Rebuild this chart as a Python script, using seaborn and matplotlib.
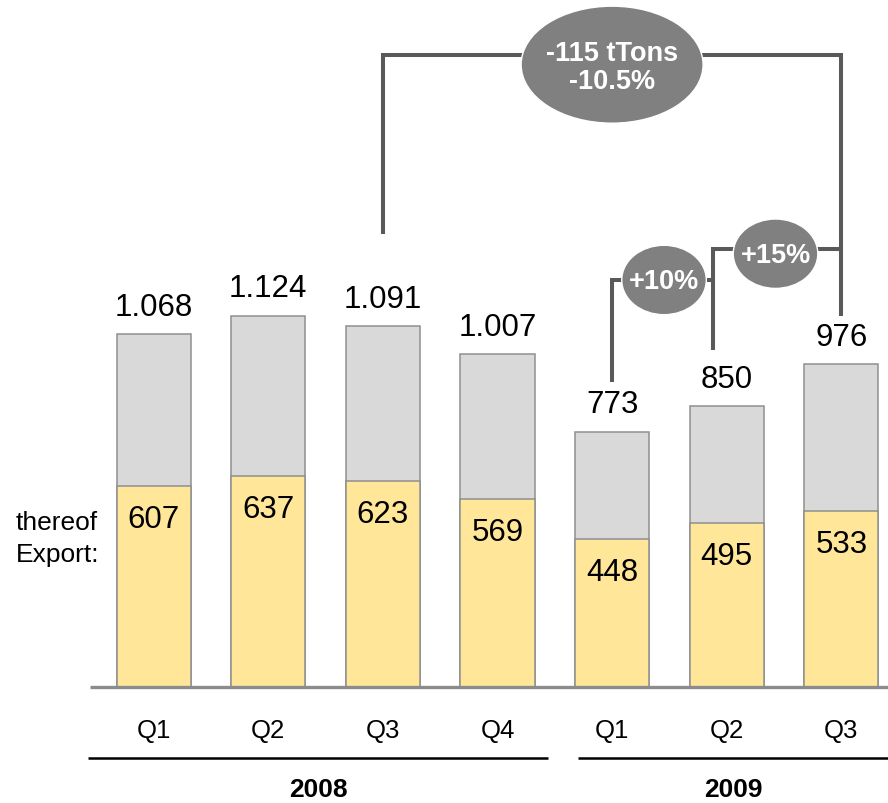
import matplotlib
matplotlib.use("Agg")
import matplotlib.pyplot as plt
from matplotlib.patches import Ellipse
import pandas as pd
import seaborn as sns

# Quarterly shipments (tTons) and the export share of each quarter
years = ["2008", "2008", "2008", "2008", "2009", "2009", "2009"]
quarters = ["Q1", "Q2", "Q3", "Q4", "Q1", "Q2", "Q3"]
totals = [1068, 1124, 1091, 1007, 773, 850, 976]
exports = [607, 637, 623, 569, 448, 495, 533]

GRAY_FILL = "#d9d9d9"
YELLOW_FILL = "#ffe699"
BAR_EDGE = "#8f8f8f"
BRACKET = "#595959"
BUBBLE = "#808080"

sns.set_theme(style="white")
plt.rcParams["font.family"] = ["Liberation Sans", "DejaVu Sans"]
plt.rcParams["text.color"] = "black"

df = pd.DataFrame({
    "period": [f"{q} {y}" for q, y in zip(quarters, years)],
    "year": years,
    "quarter": quarters,
    "total": totals,
    "export": exports,
})

fig = plt.figure(figsize=(8.88, 8.04), dpi=100)
ax = fig.add_axes([0, 0, 1, 1])

bar_w = 0.646
sns.barplot(data=df, x="period", y="total", color=GRAY_FILL, saturation=1,
            width=bar_w, edgecolor=BAR_EDGE, linewidth=1.1, errorbar=None, ax=ax)
sns.barplot(data=df, x="period", y="export", color=YELLOW_FILL, saturation=1,
            width=bar_w, edgecolor=BAR_EDGE, linewidth=1.1, errorbar=None, ax=ax)

ax.set_xlim(-1.3412, 6.4075)
ax.set_ylim(-351, 2081.7)
ax.axis("off")

n = len(df)
# baseline
ax.plot([-0.555, n], [0, 0], color="#8c8c8c", lw=2.4, solid_capstyle="butt", zorder=3)

label_fs = 22.5
for i, (t, e) in enumerate(zip(totals, exports)):
    ax.text(i, t + 59, f"{t:,}".replace(",", "."), ha="center", va="baseline",
            fontsize=label_fs)
    ax.text(i, e - 124, f"{e}", ha="center", va="baseline", fontsize=label_fs)
    ax.text(i, -151, quarters[i], ha="center", va="baseline", fontsize=18.5)

ax.text(-1.2016, 479, "thereof", ha="left", va="baseline", fontsize=19)
ax.text(-1.2016, 381, "Export:", ha="left", va="baseline", fontsize=19)

# year groups underneath the quarters
year_spans = {"2008": (-0.573, 3.441), "2009": (3.703, 6.5)}
for yr, (x0, x1) in year_spans.items():
    ax.plot([x0, x1], [-214.8, -214.8], color="black", lw=1.8,
            solid_capstyle="butt")
    cx = (x0 + min(x1, 6.4075)) / 2
    ax.text(cx, -330, yr, ha="center", va="baseline", fontsize=19,
            fontweight="bold")

line_kw = dict(color=BRACKET, lw=2.9, solid_joinstyle="miter",
               solid_capstyle="butt", zorder=4)

# year-on-year bracket: Q3 2008 -> Q3 2009
top = 1912
ax.plot([2, 2, 6, 6], [totals[2] + 280, top, top, totals[6] + 146.5], **line_kw)
diff = totals[6] - totals[2]
pct = diff / totals[2] * 100
ax.add_patch(Ellipse((4.0, 1883), 1.588, 354, facecolor=BUBBLE,
                     edgecolor="white", lw=1, zorder=5))
ax.text(4.0, 1875, f"{diff:+d} tTons\n{pct:+.1f}%", ha="center", va="center",
        fontsize=19.5, fontweight="bold", color="white", linespacing=1.1,
        zorder=6)

# quarter-on-quarter brackets in 2009
mid_x = 4.88
lvl1 = 1231.5
lvl2 = 1325
ax.plot([4, 4, mid_x], [totals[4] + 150, lvl1, lvl1], **line_kw)
ax.plot([mid_x, mid_x, 6], [totals[5] + 170, lvl2, lvl2], **line_kw)

g1 = (totals[5] / totals[4] - 1) * 100
g2 = (totals[6] / totals[5] - 1) * 100
for cx, cy, g in [(4.453, 1231.5, g1), (5.426, 1311, g2)]:
    ax.add_patch(Ellipse((cx, cy), 0.738, 210, facecolor=BUBBLE,
                         edgecolor="white", lw=1, zorder=5))
    ax.text(cx, cy - 4, f"{g:+.0f}%", ha="center", va="center", fontsize=19.5,
            fontweight="bold", color="white", zorder=6)

fig.savefig("out.png", dpi=100)
